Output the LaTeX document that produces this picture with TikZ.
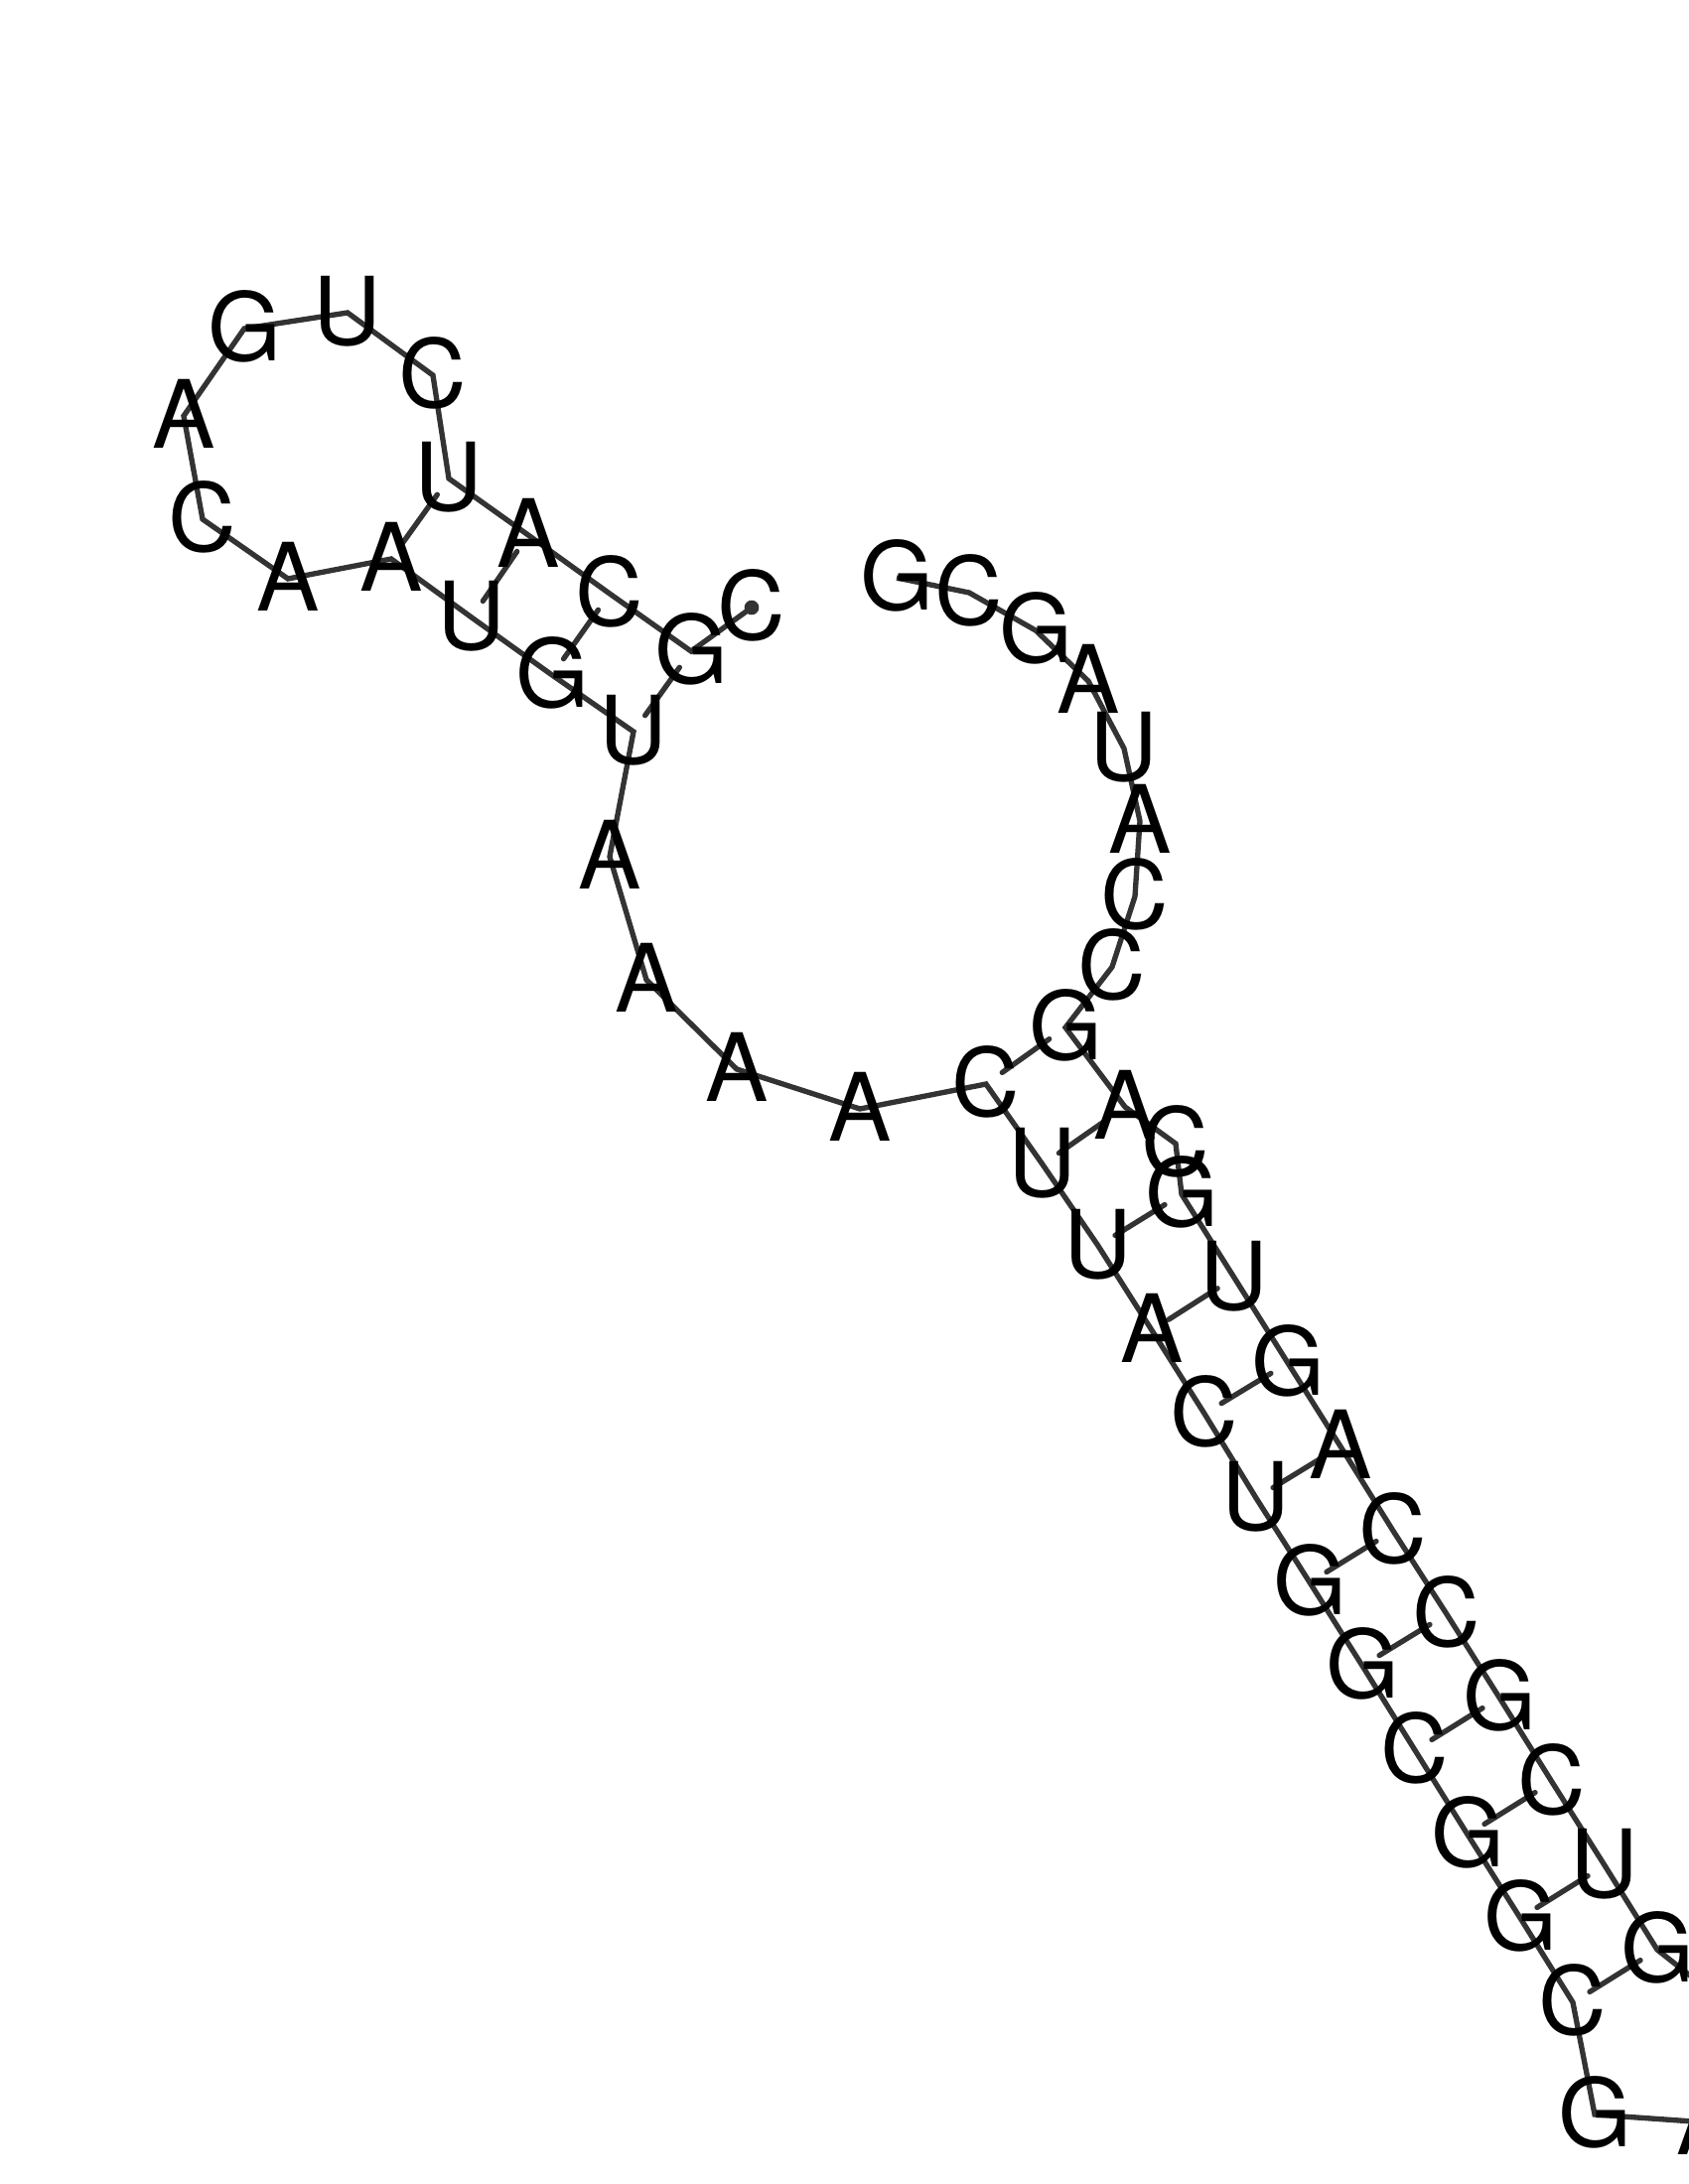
\documentclass[tikz,border=0pt]{standalone}
\usepackage{fontspec}
\setmainfont{TeX Gyre Heros}
\usetikzlibrary{backgrounds}

\begin{document}
\begin{tikzpicture}[x=0.3pt,y=-0.3pt,
nt/.style={inner sep=0pt, text height=20.5pt, text depth=1pt, font=\fontsize{28.5}{28.5}\selectfont},
backbone/.style={draw=black!80, line width=1.6pt, line join=miter},
pair/.style={draw=black!80, line width=1.6pt, line cap=round, shorten <=6pt, shorten >=6pt},
startdot/.style={fill=black!80}]
\useasboundingbox (0,0) rectangle (1700,2200);

% first hairpin
\node [nt] (n1) at (757,612) {C};
\node [nt] (n2) at (696,656) {G};
\node [nt] (n3) at (614,598) {C};
\node [nt] (n4) at (532,539) {A};
\node [nt] (n5) at (452,482) {U};
\node [nt] (n6) at (436,378) {C};
\node [nt] (n7) at (350,315) {U};
\node [nt] (n8) at (246,331) {G};
\node [nt] (n9) at (185,419) {A};
\node [nt] (n10) at (204,523) {C};
\node [nt] (n11) at (290,583) {A};
\node [nt] (n12) at (394,563) {A};
\node [nt] (n13) at (475,622) {U};
\node [nt] (n14) at (556,680) {G};
\node [nt] (n15) at (638,737) {U};

% big loop, lower side
\node [nt] (n16) at (614,863) {A};
\node [nt] (n17) at (651,987) {A};
\node [nt] (n18) at (742,1077) {A};
\node [nt] (n19) at (866,1117) {A};

% long stem, left strand
\node [nt] (n20) at (993,1092) {C};
\node [nt] (n21) at (1050,1173) {U};
\node [nt] (n22) at (1106,1255) {U};
\node [nt] (n23) at (1160,1340) {A};
\node [nt] (n24) at (1213,1424) {C};
\node [nt] (n25) at (1265,1509) {U};
\node [nt] (n26) at (1319,1594) {G};
\node [nt] (n27) at (1372,1678) {G};
\node [nt] (n28) at (1425,1763) {C};
\node [nt] (n29) at (1478,1848) {G};
\node [nt] (n30) at (1531,1932) {G};
\node [nt] (n31) at (1584,2017) {C};
\node [nt] (n32) at (1606,2130) {G};
\node [nt] (n33) at (1720,2138) {A};

% long stem, right strand
\coordinate (nout) at (1740,2020);
\node [nt] (n34) at (1669,1964) {G};
\node [nt] (n35) at (1616,1879) {U};
\node [nt] (n36) at (1563,1795) {C};
\node [nt] (n37) at (1510,1710) {G};
\node [nt] (n38) at (1457,1626) {C};
\node [nt] (n39) at (1403,1542) {C};
\node [nt] (n40) at (1350,1457) {A};
\node [nt] (n41) at (1297,1373) {G};
\node [nt] (n42) at (1243,1287) {U};
\node [nt] (n43) at (1190,1203) {G};
\node [nt] (n44) at (1184,1152) {C};
\node [nt] (n45) at (1133,1115) {A};
\node [nt] (n46) at (1073,1035) {G};

% big loop, upper side
\node [nt] (n47) at (1120,974) {C};
\node [nt] (n48) at (1143,903) {C};
\node [nt] (n49) at (1148,827) {A};
\node [nt] (n50) at (1132,754) {U};
\node [nt] (n51) at (1096,686) {A};
\node [nt] (n52) at (1043,635) {G};
\node [nt] (n53) at (976,597) {C};
\node [nt] (n54) at (903,582) {G};

\begin{scope}[on background layer]
\draw [backbone] (n1.center) -- (n2.center) -- (n3.center) -- (n4.center) -- (n5.center)
	-- (n6.center) -- (n7.center) -- (n8.center) -- (n9.center) -- (n10.center)
	-- (n11.center) -- (n12.center) -- (n13.center) -- (n14.center) -- (n15.center)
	-- (n16.center) -- (n17.center) -- (n18.center) -- (n19.center) -- (n20.center)
	-- (n21.center) -- (n22.center) -- (n23.center) -- (n24.center) -- (n25.center)
	-- (n26.center) -- (n27.center) -- (n28.center) -- (n29.center) -- (n30.center)
	-- (n31.center) -- (n32.center) -- (n33.center);
\draw [backbone] (nout) -- (n34.center) -- (n35.center) -- (n36.center) -- (n37.center)
	-- (n38.center) -- (n39.center) -- (n40.center) -- (n41.center) -- (n42.center)
	-- (n43.center) -- (n44.center) -- (n45.center) -- (n46.center) -- (n47.center)
	-- (n48.center) -- (n49.center) -- (n50.center) -- (n51.center) -- (n52.center)
	-- (n53.center) -- (n54.center);
\path (n2.center) edge [pair] (n15.center);
\path (n3.center) edge [pair] (n14.center);
\path (n4.center) edge [pair] (n13.center);
\path (n5.center) edge [pair] (n12.center);
\path (n20.center) edge [pair] (n46.center);
\path (n21.center) edge [pair] (n45.center);
\path (n22.center) edge [pair] (n43.center);
\path (n23.center) edge [pair] (n42.center);
\path (n24.center) edge [pair] (n41.center);
\path (n25.center) edge [pair] (n40.center);
\path (n26.center) edge [pair] (n39.center);
\path (n27.center) edge [pair] (n38.center);
\path (n28.center) edge [pair] (n37.center);
\path (n29.center) edge [pair] (n36.center);
\path (n30.center) edge [pair] (n35.center);
\path (n31.center) edge [pair] (n34.center);
\fill [startdot] (n1.center) circle (2.2pt);
\end{scope}
\end{tikzpicture}
\end{document}
